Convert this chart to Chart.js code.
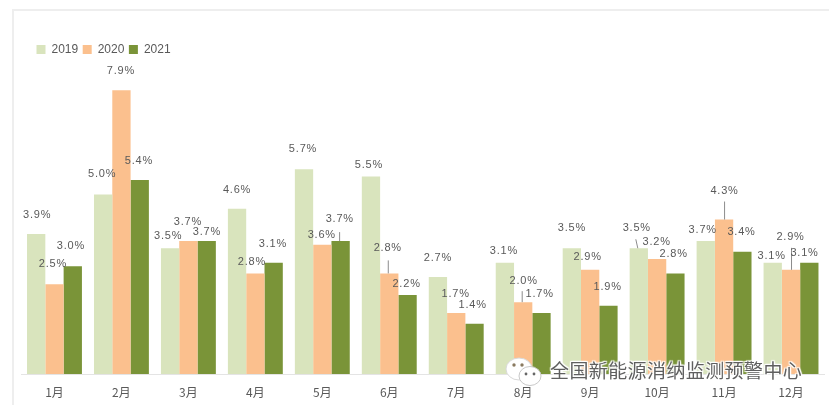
<!DOCTYPE html>
<html lang="zh">
<head>
<meta charset="utf-8">
<style>
html,body{margin:0;padding:0;background:#fff;overflow:hidden}
#stage{position:relative;width:829px;height:405px;overflow:hidden;background:#fff}
#card{position:absolute;left:12px;top:9px;width:830px;height:410px;border:2px solid #eeeeee;box-sizing:border-box}
#c{position:absolute;left:0;top:0;filter:blur(0.55px)}
#mark{position:absolute;left:550px;top:358px;font:19px/24px "Noto Sans CJK SC",sans-serif;color:#5f5f5f;white-space:nowrap;letter-spacing:0.4px;
text-shadow:0 0 2px #fff,0 0 2px #fff,1px 1px 1px #fff,-1px -1px 1px #fff,1px -1px 1px #fff,-1px 1px 1px #fff;filter:blur(0.45px)}
#icon{position:absolute;left:505px;top:355px;filter:blur(0.4px)}
</style>
</head>
<body>
<div id="stage">
<div id="card"></div>
<canvas id="c" width="829" height="405"></canvas>
<svg id="icon" width="38" height="34" viewBox="0 0 38 34">
<ellipse cx="14" cy="14" rx="13" ry="11" fill="#fff" stroke="#d8d8d8" stroke-width="1"/>
<ellipse cx="25" cy="21" rx="11" ry="9.5" fill="#fff" stroke="#c8c8c8" stroke-width="1"/>
<circle cx="9" cy="10" r="1.7" fill="#8a7a60"/><circle cx="17" cy="10" r="1.7" fill="#8a7a60"/>
<circle cx="21" cy="19" r="1.4" fill="#666"/><circle cx="29" cy="19" r="1.4" fill="#666"/>
</svg>
<div id="mark">全国新能源消纳监测预警中心</div>
</div>
<script src="https://cdn.jsdelivr.net/npm/chart.js@4/dist/chart.umd.js"></script>
<script>
const months = ["1月","2月","3月","4月","5月","6月","7月","8月","9月","10月","11月","12月"];
const seriesNames = ["2019","2020","2021"];
const v2019 = [3.9,5.0,3.5,4.6,5.7,5.5,2.7,3.1,3.5,3.5,3.7,3.1];
const v2020 = [2.5,7.9,3.7,2.8,3.6,2.8,1.7,2.0,2.9,3.2,4.3,2.9];
const v2021 = [3.0,5.4,3.7,3.1,3.7,2.2,1.4,1.7,1.9,2.8,3.4,3.1];

// label placement relative to each bar top (hand-placed in the source chart)
const labelDx = [
  [1,-1,-2,0,-1,-2,0,-1,0,-2,-3,-1],
  [-1.5,-0.5,-0.5,-3.5,-0.5,-1.5,-0.5,0.5,-2.5,-0.5,0.5,-0.5],
  [-1.8,-0.8,0.2,-0.8,-0.8,-1,-1.8,-1.8,-0.8,-1.8,-0.8,-4.8]
];
const labelDy = [
  [-19,-20.5,-12,-19,-20,-11.5,-19,-12,-20,-20,-11,-7],
  [-20,-19,-19,-11.5,-10,-25.5,-19,-21,-13,-17,-28.6,-33],
  [-20,-19,-9,-19,-22,-11,-19,-19,-19,-19.5,-20,-10]
];
// leader lines: series, month, x shift at bar, x shift at label end, length
const leaders = [
  [0,9,-1,-3,9],
  [2,4,-1,-1,9],
  [1,5,-1,-1,13],
  [1,7,-1,-1,11],
  [1,10,0.5,0.5,18],
  [1,11,0.5,0.5,22]
];

const colors = ["#d9e4bd","#fbc08e","#7a9438"];
const textColor = "#595959";

const manualLabels = {
  id:"manualLabels",
  afterLayout(chart){
    const l = chart.legend;
    const w = l.right - l.left;
    l.left = 32; l.right = l.left + w;
    const h = l.bottom - l.top;
    l.top = 39; l.bottom = l.top + h;
  },
  afterDatasetsDraw(chart){
    const ctx = chart.ctx;
    ctx.save();
    ctx.strokeStyle = "#8c8c8c";
    ctx.lineWidth = 1;
    leaders.forEach(([s,i,a,b,len])=>{
      const el = chart.getDatasetMeta(s).data[i];
      ctx.beginPath();
      ctx.moveTo(el.x + a, el.y);
      ctx.lineTo(el.x + b, el.y - len);
      ctx.stroke();
    });
    ctx.font = '11px "Liberation Sans", sans-serif';
    ctx.letterSpacing = "0.8px";
    ctx.fillStyle = textColor;
    ctx.textAlign = "center";
    ctx.textBaseline = "middle";
    chart.data.datasets.forEach((ds,s)=>{
      chart.getDatasetMeta(s).data.forEach((el,i)=>{
        ctx.fillText(ds.data[i].toFixed(1)+"%", el.x + labelDx[s][i], el.y + labelDy[s][i]);
      });
    });
    ctx.restore();
  }
};

new Chart(document.getElementById("c"),{
  type:"bar",
  data:{
    labels:months,
    datasets:[v2019,v2020,v2021].map((d,i)=>({
      label:seriesNames[i],data:d,backgroundColor:colors[i],borderWidth:0,
      categoryPercentage:0.82,barPercentage:1
    }))
  },
  options:{
    responsive:false,
    animation:false,
    devicePixelRatio:1,
    layout:{padding:{left:21,right:4.5,top:12,bottom:0}},
    plugins:{
      tooltip:{enabled:false},
      legend:{
        position:"top",align:"start",
        labels:{boxWidth:9,boxHeight:9,padding:4.5,color:textColor,
          font:{family:'"Liberation Sans", sans-serif',size:12}}
      }
    },
    scales:{
      x:{
        grid:{display:false,drawTicks:false},
        border:{color:"#e4e4e4",width:1},
        ticks:{color:textColor,padding:11,maxRotation:0,
          font:{family:'"Noto Sans CJK SC", sans-serif',size:12}},
        afterFit(s){s.height=31;}
      },
      y:{display:false,min:0,max:9.34}
    }
  },
  plugins:[manualLabels]
});
</script>
</body>
</html>
